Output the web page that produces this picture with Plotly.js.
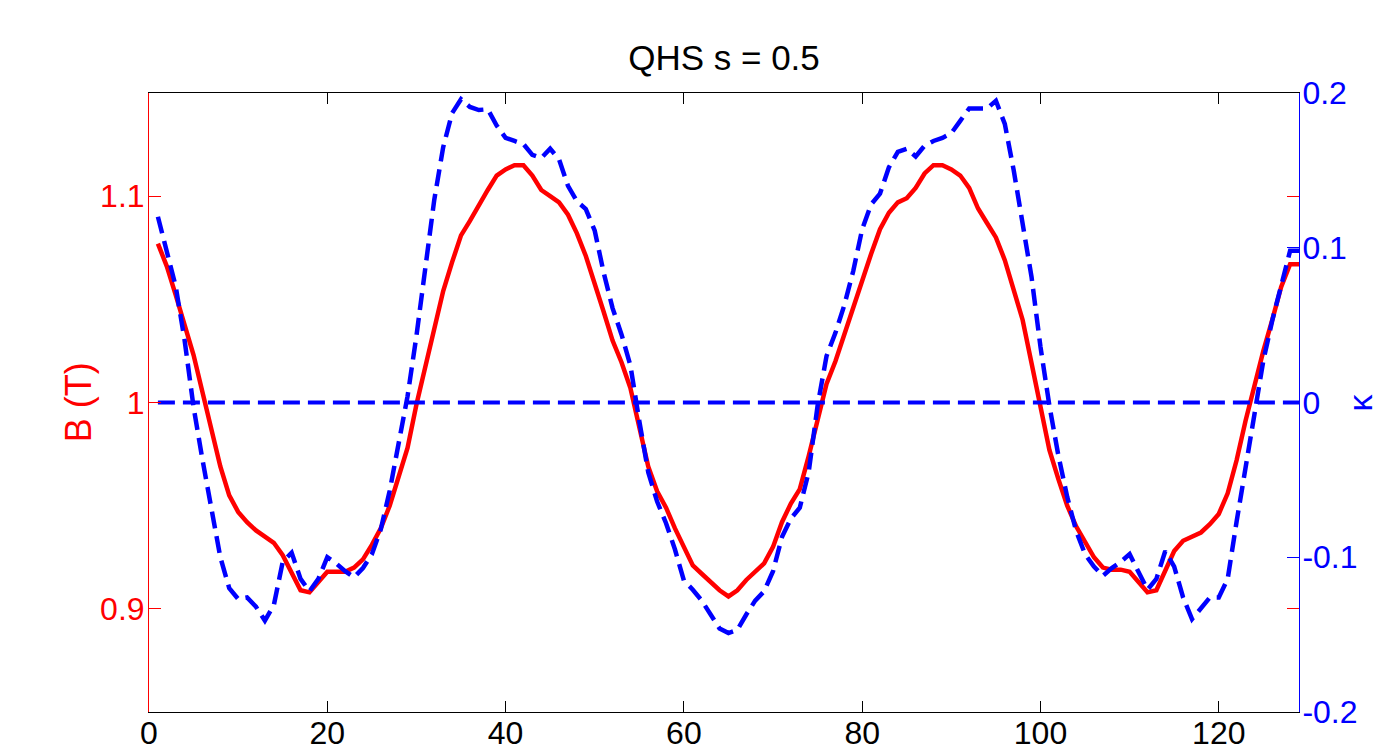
<!DOCTYPE html>
<html>
<head>
<meta charset="utf-8">
<script src="https://cdn.plot.ly/plotly-3.0.1.min.js"></script>
<style>
  html, body { margin: 0; padding: 0; background: #fff; }
  #chart { width: 1385px; height: 754px; }
</style>
</head>
<body>
<div id="chart"></div>
<script>
// Position index along the field line (1..129)
const xIndex = [];
for (let i = 1; i <= 129; i++) xIndex.push(i);

// |B| along the line (left axis, T)
const bField = [
  1.077, 1.066, 1.052, 1.038, 1.023, 1.005, 0.987, 0.969, 0.955, 0.947,
  0.942, 0.938, 0.935, 0.932, 0.926, 0.918, 0.909, 0.908, 0.913, 0.918,
  0.918, 0.918, 0.920, 0.924, 0.931, 0.939, 0.950, 0.964, 0.978, 0.999,
  1.018, 1.037, 1.054, 1.068, 1.081, 1.088, 1.096, 1.103, 1.110, 1.113,
  1.115, 1.115, 1.110, 1.103, 1.100, 1.097, 1.091, 1.082, 1.071, 1.058,
  1.044, 1.030, 1.0195, 1.007, 0.989, 0.969, 0.957, 0.949, 0.939, 0.930,
  0.921, 0.917, 0.913, 0.909, 0.906, 0.909, 0.914, 0.918, 0.922, 0.930,
  0.942, 0.951, 0.958, 0.974, 0.991, 1.009, 1.020, 1.033, 1.047, 1.060,
  1.072, 1.084, 1.092, 1.097, 1.099, 1.104, 1.111, 1.115, 1.115, 1.113,
  1.110, 1.104, 1.094, 1.087, 1.080, 1.069, 1.055, 1.040, 1.019, 0.998,
  0.977, 0.963, 0.950, 0.940, 0.932, 0.925, 0.920, 0.919, 0.919, 0.918,
  0.913, 0.908, 0.909, 0.919, 0.928, 0.933, 0.935, 0.937, 0.941, 0.946,
  0.956, 0.972, 0.991, 1.009, 1.025, 1.040, 1.056, 1.067, 1.067
];

// curvature kappa (right axis)
const kappa = [
  0.120, 0.098, 0.075, 0.040, -0.003, -0.037, -0.069, -0.100, -0.120, -0.127,
  -0.126, -0.132, -0.141, -0.131, -0.103, -0.097, -0.114, -0.122, -0.114, -0.100,
  -0.104, -0.109, -0.113, -0.107, -0.098, -0.082, -0.057, -0.025, 0.004, 0.043,
  0.087, 0.131, 0.165, 0.187, 0.196, 0.191, 0.189, 0.1895, 0.179, 0.171,
  0.169, 0.167, 0.160, 0.158, 0.164, 0.157, 0.140, 0.130, 0.125, 0.111,
  0.084, 0.061, 0.044, 0.024, -0.012, -0.045, -0.064, -0.078, -0.095, -0.115,
  -0.121, -0.128, -0.137, -0.146, -0.149, -0.147, -0.137, -0.128, -0.122, -0.109,
  -0.087, -0.075, -0.068, -0.045, -0.002, 0.030, 0.045, 0.063, 0.085, 0.112,
  0.128, 0.135, 0.152, 0.162, 0.164, 0.159, 0.166, 0.169, 0.171, 0.174,
  0.182, 0.190, 0.190, 0.190, 0.195, 0.180, 0.150, 0.115, 0.081, 0.036,
  -0.002, -0.034, -0.061, -0.083, -0.098, -0.106, -0.112, -0.107, -0.103, -0.098,
  -0.110, -0.121, -0.114, -0.096, -0.106, -0.126, -0.140, -0.133, -0.126, -0.126,
  -0.114, -0.077, -0.041, -0.005, 0.027, 0.053, 0.076, 0.098, 0.098
];

// zero reference line for kappa
const zeroX = [1, 129];
const zeroY = [0, 0];

// tick labels
const xTickVals = [0, 20, 40, 60, 80, 100, 120];
const xTickText = ['0', '20', '40', '60', '80', '100', '120'];
const yTickVals = [0.9, 1, 1.1];
const yTickText = ['0.9', '1', '1.1'];
const y2TickVals = [-0.2, -0.1, 0, 0.1, 0.2];
const y2TickText = ['-0.2', '-0.1', '0', '0.1', '0.2'];

const FONT = 'Liberation Sans, Arial, Helvetica, sans-serif';
const RED = '#ff0000';
const BLUE = '#0000ff';

const traces = [
  { x: zeroX, y: zeroY, yaxis: 'y2', mode: 'lines', type: 'scatter',
    line: { color: BLUE, width: 4, dash: '17px,8px' }, hoverinfo: 'skip' },
  { x: xIndex, y: bField, yaxis: 'y', mode: 'lines', type: 'scatter',
    line: { color: RED, width: 4.5 } },
  { x: xIndex, y: kappa, yaxis: 'y2', mode: 'lines', type: 'scatter',
    line: { color: BLUE, width: 4.5, dash: '17px,8px' } }
];

const layout = {
  width: 1385, height: 754,
  margin: { l: 149, r: 86, t: 93, b: 42, pad: 0 },
  paper_bgcolor: '#ffffff', plot_bgcolor: '#ffffff',
  showlegend: false,
  font: { family: FONT, size: 32, color: '#000' },
  title: { text: 'QHS s = 0.5', font: { family: FONT, size: 35, color: '#000' },
           xref: 'paper', x: 0.5, xanchor: 'center',
           yref: 'container', y: 0.923, yanchor: 'middle' },
  xaxis: {
    range: [0, 129], tickmode: 'array', tickvals: xTickVals, ticktext: xTickText,
    ticks: 'inside', ticklen: 11, tickwidth: 1, tickcolor: '#000',
    showline: true, linecolor: '#000', linewidth: 1, mirror: 'ticks',
    showgrid: false, zeroline: false, ticklabelstandoff: -7,
    tickfont: { family: FONT, size: 32, color: '#000' }
  },
  yaxis: {
    range: [0.85, 1.15], tickmode: 'array', tickvals: yTickVals, ticktext: yTickText,
    ticks: 'inside', ticklen: 12, tickwidth: 1, tickcolor: RED,
    showline: true, linecolor: RED, linewidth: 1, mirror: 'ticks',
    showgrid: false, zeroline: false, ticklabelstandoff: -3,
    tickfont: { family: FONT, size: 32, color: RED }
  },
  yaxis2: {
    overlaying: 'y', side: 'right',
    range: [-0.2, 0.2], tickmode: 'array', tickvals: y2TickVals, ticktext: y2TickText,
    ticks: 'inside', ticklen: 12, tickwidth: 1, tickcolor: BLUE,
    showline: true, linecolor: BLUE, linewidth: 1,
    showgrid: false, zeroline: false, ticklabelstandoff: -4,
    tickfont: { family: FONT, size: 32, color: BLUE }
  },
  annotations: [
    { text: 'B (T)', xref: 'paper', yref: 'paper', x: -0.061, y: 0.5,
      xanchor: 'center', yanchor: 'middle', textangle: -90, showarrow: false,
      font: { family: FONT, size: 36, color: RED } },
    { text: 'κ', xref: 'paper', yref: 'paper', x: 1.053, y: 0.5,
      xanchor: 'center', yanchor: 'middle', textangle: -90, showarrow: false,
      borderpad: 0,
      font: { family: FONT, size: 34, color: BLUE } }
  ]
};

Plotly.newPlot('chart', traces, layout, { displayModeBar: false, staticPlot: true });
</script>
</body>
</html>
